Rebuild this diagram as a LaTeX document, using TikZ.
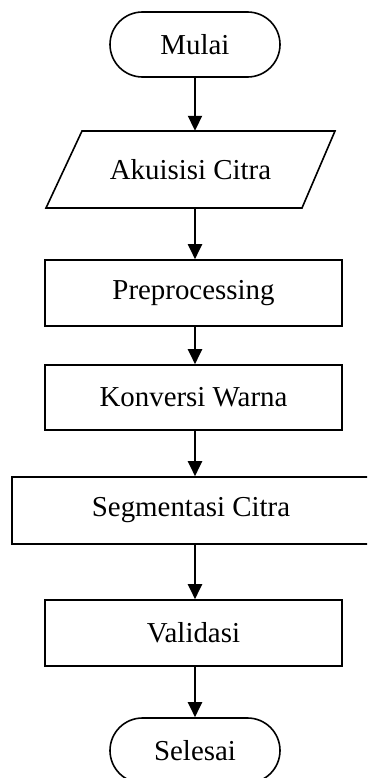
\documentclass[tikz,border=0pt]{standalone}
\usepackage{fontspec}
\setmainfont{Liberation Serif}
\usetikzlibrary{arrows.meta}
\begin{document}
\begin{tikzpicture}[x=1bp,y=-1bp,
  every node/.style={font=\fontsize{29}{32}\selectfont, inner sep=0pt},
  boxline/.style={draw=black, line width=1.6bp},
  terminal/.style={boxline, rectangle, rounded corners=32.5bp, minimum width=170bp, minimum height=65bp},
  process/.style={boxline, rectangle, minimum height=66bp},
  flow/.style={line width=2bp, -{Triangle[width=14bp,length=15bp]}}
]
\useasboundingbox (0,0) rectangle (367,778);
\clip (0,0) rectangle (367,778);

\node[terminal] (mulai) at (195,44.5) {Mulai};

% input/output parallelogram
\node[minimum width=220bp, minimum height=77bp] (akuisisi) at (190.5,169.5) {Akuisisi Citra};
\draw[boxline, line join=miter] (82,131) -- (335,131) -- (302,208) -- (46,208) -- cycle;

\node[process, minimum width=297bp] (pre) at (193.5,293) {Preprocessing};
\node[process, minimum width=297bp, minimum height=65bp] (konversi) at (193.5,397.5) {Konversi Warna};
\node[process, minimum width=358bp, minimum height=67bp] (segmen) at (191,510.5) {Segmentasi Citra};
\node[process, minimum width=297bp] (valid) at (193.5,633) {Validasi};
\node[terminal] (selesai) at (195,750.5) {Selesai};

\draw[flow] (mulai.south) -- (akuisisi.north -| mulai.south);
\draw[flow] (akuisisi.south -| mulai.south) -- (pre.north -| mulai.south);
\draw[flow] (pre.south -| mulai.south) -- (konversi.north -| mulai.south);
\draw[flow] (konversi.south -| mulai.south) -- (segmen.north -| mulai.south);
\draw[flow] (segmen.south -| mulai.south) -- (valid.north -| mulai.south);
\draw[flow] (valid.south -| mulai.south) -- (selesai.north);
\end{tikzpicture}
\end{document}
